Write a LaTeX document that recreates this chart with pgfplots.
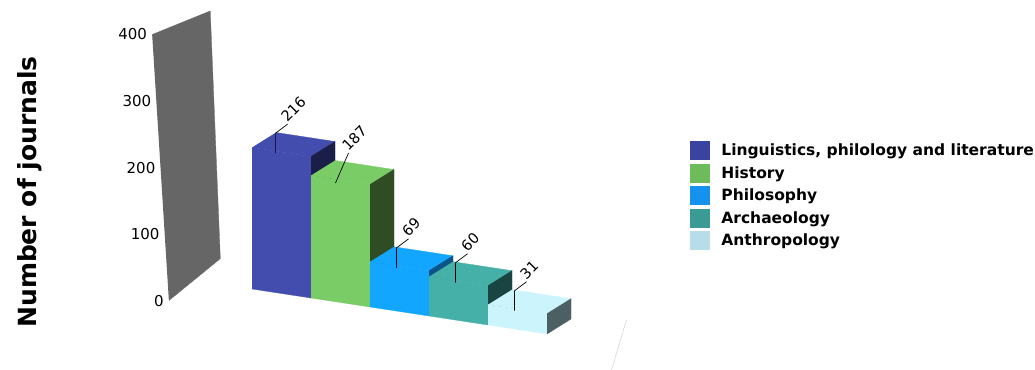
\documentclass[border=0pt]{standalone}
\usepackage{pgfplots}
\pgfplotsset{compat=1.18}
\usepackage{fontspec}
\setmainfont{DejaVu Sans}
\definecolor{wallgray}{HTML}{666666}
\definecolor{f1}{HTML}{434DAE}\definecolor{s1}{HTML}{1C1E4A}\definecolor{l1}{HTML}{3A43A0}
\definecolor{f2}{HTML}{7ACC66}\definecolor{s2}{HTML}{2F4C25}\definecolor{l2}{HTML}{6DBB5A}
\definecolor{f3}{HTML}{12A6FF}\definecolor{s3}{HTML}{0C5488}\definecolor{l3}{HTML}{1592EE}
\definecolor{f4}{HTML}{45B0A8}\definecolor{s4}{HTML}{1A4442}\definecolor{l4}{HTML}{3A9A94}
\definecolor{f5}{HTML}{CCF4FC}\definecolor{s5}{HTML}{4C5F63}\definecolor{l5}{HTML}{B7DDE8}
\newcommand{\tickfont}{\fontsize{15bp}{18bp}\selectfont}
\newcommand{\labfont}{\fontsize{14.5bp}{17bp}\selectfont}
% one 3D bar: #1 index, #2 value, #3 front/top colour, #4 side colour
\newcommand{\drawbar}[4]{%
  \pgfmathsetmacro{\xr}{#1+1}%
  \addplot3[fill=#3, draw=#3, line width=0.3pt, forget plot] coordinates {(#1,0,0) (\xr,0,0) (\xr,0,#2) (#1,0,#2)};
  \addplot3[fill=#3, draw=#3, line width=0.3pt, forget plot] coordinates {(#1,0,#2) (\xr,0,#2) (\xr,1,#2) (#1,1,#2)};
  \addplot3[fill=#4, draw=#4, line width=0.3pt, forget plot] coordinates {(\xr,0,0) (\xr,1,0) (\xr,1,#2) (\xr,0,#2)};
}
\newcommand{\leader}[3]{%
  \draw[black, line width=0.7pt] ([yshift=-2bp]axis cs:#1,0,#2) -- ([yshift=18bp]axis cs:#1,0,#2) -- ++(12bp,9bp)
     node[anchor=south west, rotate=45, inner sep=0.5bp, font=\labfont] {#3};
}
\begin{document}
\begin{tikzpicture}
\useasboundingbox (0,0) rectangle (1035bp,370bp);
\begin{axis}[
  at={(252bp,81bp)}, anchor=origin,
  x={(59bp,-9bp)}, y={(24bp,15bp)}, z={(0bp,0.655bp)},
  xmin=-1.3, xmax=7, ymin=-1.6, ymax=1.6, zmin=0, zmax=400,
  hide axis, clip=false,
]
% back wall
\addplot3[fill=wallgray, draw=wallgray, line width=0.3pt, forget plot] coordinates {(-0.88,-1.3,0) (-1.094,1.37,0) (-0.919,0.52,400) (-1.196,-1.22,400)};
% floor edge
\addplot3[draw=gray!35, line width=0.5pt, forget plot] coordinates {(5.77,1.42,0) (6.67,-1.42,0)};
% bars
\drawbar{0}{216}{f1}{s1}
\drawbar{1}{187}{f2}{s2}
\drawbar{2}{69}{f3}{s3}
\drawbar{3}{60}{f4}{s4}
\drawbar{4}{31}{f5}{s5}
% tick labels
\node[anchor=east, inner sep=0pt, xshift=-5bp, font=\tickfont] at (axis cs:-0.88,-1.3,0) {0};
\node[anchor=east, inner sep=0pt, xshift=-5bp, font=\tickfont] at (axis cs:-0.959,-1.28,100) {100};
\node[anchor=east, inner sep=0pt, xshift=-5bp, font=\tickfont] at (axis cs:-1.038,-1.26,200) {200};
\node[anchor=east, inner sep=0pt, xshift=-5bp, font=\tickfont] at (axis cs:-1.117,-1.24,300) {300};
\node[anchor=east, inner sep=0pt, xshift=-5bp, font=\tickfont] at (axis cs:-1.196,-1.22,400) {400};
% data labels
\leader{0.4}{216}{216}
\draw[black, line width=0.7pt] ([xshift=-5bp,yshift=-3bp]axis cs:1.5,0,187) -- ++(13bp,30bp)
     node[anchor=south west, rotate=45, inner sep=0.5bp, font=\labfont] {187};
\leader{2.45}{69}{69}
\leader{3.45}{60}{60}
\leader{4.45}{31}{31}
\end{axis}
\node[rotate=90, font=\fontsize{25bp}{29bp}\selectfont\bfseries] at (30bp,178bp) {Number of journals};
\begin{axis}[
  at={(690bp,229bp)}, anchor=north west, hide axis, scale only axis,
  width=10bp, height=10bp, xmin=0, xmax=1, ymin=0, ymax=1,
  legend cell align=left,
  legend style={at={(0,1)}, anchor=north west, draw=none, fill=none,
    font=\fontsize{15.5bp}{18bp}\selectfont\bfseries, row sep=3.5bp,
    inner sep=0pt},
  legend image code/.code={\fill[#1, draw=none] (0bp,-9.5bp) rectangle (20bp,9.5bp); \path (29bp,0bp);},
]
\addlegendimage{fill=l1}\addlegendentry{Linguistics, philology and literature}
\addlegendimage{fill=l2}\addlegendentry{History}
\addlegendimage{fill=l3}\addlegendentry{Philosophy}
\addlegendimage{fill=l4}\addlegendentry{Archaeology}
\addlegendimage{fill=l5}\addlegendentry{Anthropology}
\end{axis}
\end{tikzpicture}
\end{document}
